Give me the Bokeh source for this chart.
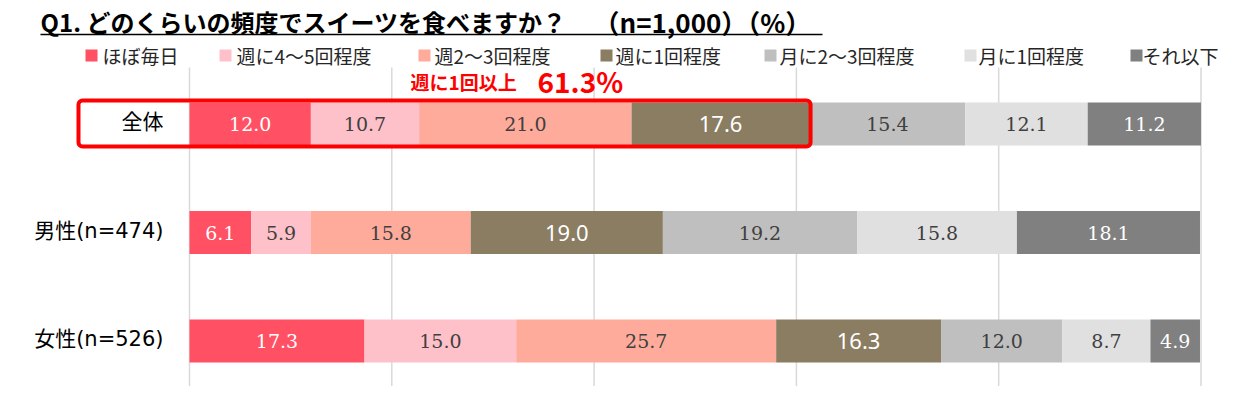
from bokeh.plotting import figure
from bokeh.models import Range1d, ColumnDataSource
from bokeh.core.properties import value
from bokeh.embed import file_html
from bokeh.resources import INLINE

# ---------------- data ----------------
categories = ["全体", "男性(n=474)", "女性(n=526)"]
series = ["ほぼ毎日", "週に4～5回程度", "週2～3回程度", "週に1回程度",
          "月に2～3回程度", "月に1回程度", "それ以下"]
total_vals = [12.0, 10.7, 21.0, 17.6, 15.4, 12.1, 11.2]
male_vals = [6.1, 5.9, 15.8, 19.0, 19.2, 15.8, 18.1]
female_vals = [17.3, 15.0, 25.7, 16.3, 12.0, 8.7, 4.9]
grid_ticks = [0, 20, 40, 60, 80, 100]
title_main = "Q1. どのくらいの頻度でスイーツを食べますか？"
title_sub = "（n=1,000）（%）"
highlight_label = "週に1回以上"

# ---------------- style ----------------
colors = ["#FF5064", "#FFC1C9", "#FFAB9B", "#8A7D62", "#BFBFBF", "#E0E0E0", "#808080"]
label_colors = ["#FFFFFF", "#404040", "#404040", "#FFFFFF", "#404040", "#404040", "#FFFFFF"]
JP = "Noto Sans CJK JP"
MIX = "DejaVu Sans, Noto Sans CJK JP"

FIG_W, FIG_H = 1233, 386
ORIGIN = 0                        # page px where the figure starts
X0_PX, X_PER = 189.0, 10.115     # page px of 0 %, px per %
ROW0_PX, ROW_PX = 123.5, 108.5   # page px of first row centre, px per row


def dx(px):
    return (px - X0_PX) / X_PER


def dy(px):
    return (px - ROW0_PX) / ROW_PX


p = figure(width=FIG_W, height=FIG_H, output_backend="svg", toolbar_location=None,
           x_range=Range1d(dx(ORIGIN), dx(ORIGIN + FIG_W)),
           y_range=Range1d(dy(ORIGIN + FIG_H), dy(ORIGIN)),
           x_axis_type=None, y_axis_type=None, min_border=0)
p.outline_line_color = None
p.grid.visible = False
p.background_fill_color = "white"
p.border_fill_color = "white"

# grid lines
p.segment(x0=grid_ticks, x1=grid_ticks, y0=[dy(67)] * len(grid_ticks),
          y1=[dy(400)] * len(grid_ticks), line_color="#D9D9D9", line_width=1.5)

rows = [0, 1, 2]
data = [total_vals, male_vals, female_vals]
bar_h = 43 / ROW_PX

for i, name in enumerate(series):
    lefts, rights, labs = [], [], []
    for r in range(3):
        lft = sum(data[r][:i])
        lefts.append(lft)
        rights.append(lft + data[r][i])
        labs.append(f"{data[r][i]:.1f}")
    src = ColumnDataSource(dict(y=rows, left=lefts, right=rights,
                                mid=[(a + b) / 2 for a, b in zip(lefts, rights)], lab=labs))
    p.hbar(y="y", left="left", right="right", height=bar_h, source=src,
           fill_color=colors[i], line_color=None)
    if i == 3:
        p.text(x="mid", y="y", text="lab", source=src, text_align="center",
               text_baseline="middle", text_color=label_colors[i],
               text_font=value("Noto Sans"), text_font_size="22px")
    else:
        p.text(x="mid", y="y", text="lab", source=src, text_align="center",
               text_baseline="middle", text_color=label_colors[i],
               text_font=value("DejaVu Serif"), text_font_size="19px")

# category labels
p.text(x=[dx(163)] * 3, y=[r - 2 / ROW_PX for r in rows], text=categories,
       text_align="right", text_baseline="middle", text_color="#000000",
       text_font=value(MIX), text_font_size="21px")

# highlight box
share = sum(total_vals[:4])
p.quad(left=[dx(78)], right=[share + 0.1], top=[dy(100)], bottom=[dy(146)],
       fill_color=None, line_color="#FF0000", line_width=4, border_radius=4)
p.text(x=[dx(410)], y=[dy(81)], text=[highlight_label], text_align="left",
       text_baseline="middle", text_color="#FF0000", text_font=value(JP),
       text_font_size="19px", text_font_style="bold")
p.text(x=[dx(537)], y=[dy(80)], text=[f"{share:.1f}%"], text_align="left",
       text_baseline="middle", text_color="#FF0000", text_font=value(JP),
       text_font_size="28px", text_font_style="bold")

# legend
leg_sq = [91, 225, 424, 606, 770, 970, 1136]
leg_tx = [102, 236, 434, 615, 779, 978, 1142]
p.scatter(x=[dx(v) for v in leg_sq], y=[dy(55)] * len(series), marker="square",
          size=12, fill_color=colors, line_color=None)
p.text(x=[dx(v) for v in leg_tx], y=[dy(55)] * len(series), text=series,
       text_align="left", text_baseline="middle", text_color="#262626",
       text_font=value(JP), text_font_size="19px")

# title
p.text(x=[dx(40)], y=[dy(21)], text=[title_main], text_align="left",
       text_baseline="middle", text_color="#000000", text_font=value(JP),
       text_font_size="24px", text_font_style="bold")
p.text(x=[dx(593)], y=[dy(21)], text=[title_sub], text_align="left",
       text_baseline="middle", text_color="#000000", text_font=value(JP),
       text_font_size="26px", text_font_style="bold")
p.segment(x0=[dx(40)], x1=[dx(822)], y0=[dy(34)], y1=[dy(34)],
          line_color="#000000", line_width=1.5)

open("out.html", "w").write(file_html(p, INLINE))
